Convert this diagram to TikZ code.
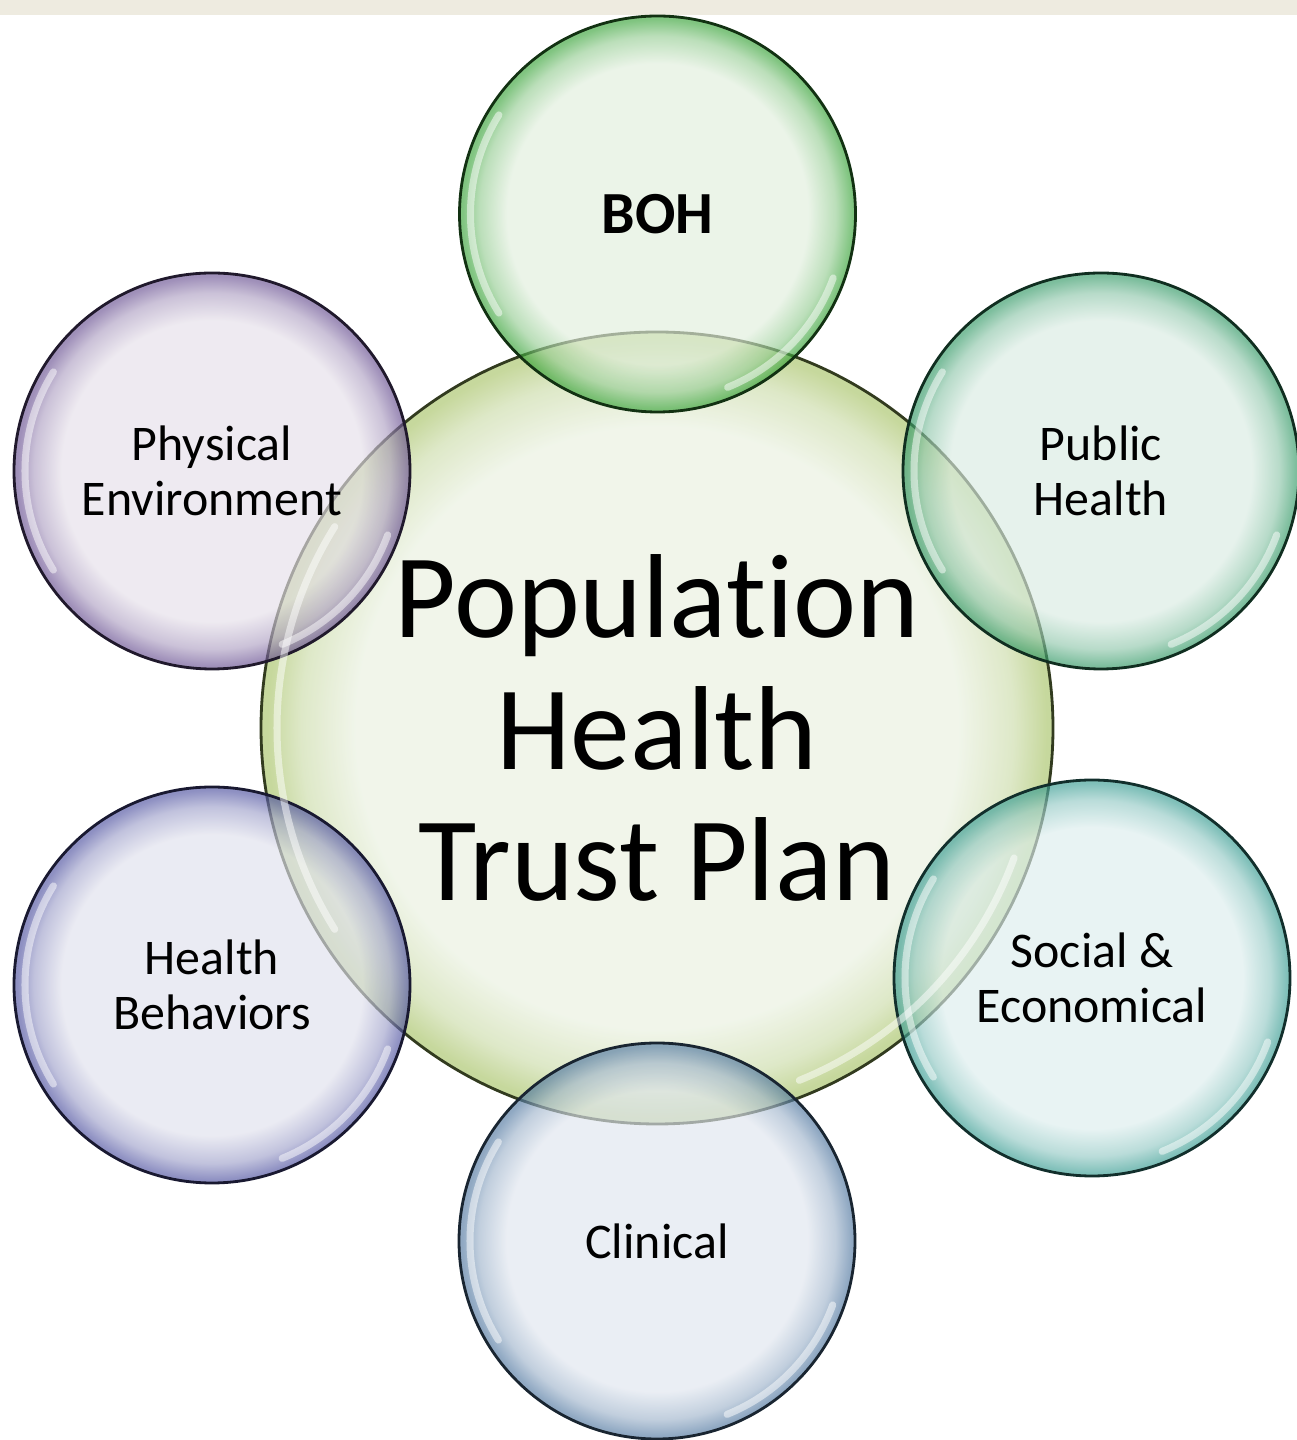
\documentclass[tikz,border=0pt]{standalone}
\usepackage{fontspec}
\setmainfont{Carlito}[Ligatures=CommonOff]
\usepackage{xcolor}

\definecolor{topband}{HTML}{EEEBE0}
\definecolor{planin}{RGB}{233,240,223}   \definecolor{planout}{RGB}{168,195,104}
\definecolor{bohin}{RGB}{224,238,220}    \definecolor{bohout}{RGB}{60,165,60}
\definecolor{pubin}{RGB}{217,235,226}    \definecolor{pubout}{RGB}{55,155,105}
\definecolor{physin}{RGB}{229,223,233}   \definecolor{physout}{RGB}{108,84,148}
\definecolor{behin}{RGB}{223,224,236}    \definecolor{behout}{RGB}{82,85,162}
\definecolor{socin}{RGB}{220,237,237}    \definecolor{socout}{RGB}{60,158,148}
\definecolor{clinin}{RGB}{223,229,238}   \definecolor{clinout}{RGB}{84,122,162}

\colorlet{bubin}{white}
\colorlet{bubout}{gray}
\colorlet{bubline}{black}
\pgfdeclareradialshading[bubin,bubout]{bubble}{\pgfpoint{0bp}{0bp}}{%
  color(0bp)=(bubin); color(19bp)=(bubin); color(22.5bp)=(bubin!55!bubout);
  color(24.6bp)=(bubout); color(50bp)=(bubout)}

\begin{document}
\begin{tikzpicture}[
    bubble/.style={circle, draw=bubline, line width=0.8pt, shading=bubble, fill opacity=0.65, text opacity=1,
        inner sep=0pt, minimum size=3.96cm, align=center, font=\fontsize{14.2}{15.6}\selectfont},
    tint/.code 2 args={\colorlet{bubin}{#1}\colorlet{bubout}{#2}\colorlet{bubline}{#2!30!black}},
    gleam/.style={white, line width=2pt, line cap=round, opacity=0.5}
]
    \useasboundingbox (0,0) rectangle (12.97,14.40);
    \fill[topband] (0,14.25) rectangle (12.97,14.40);

    % Centre
    \node[bubble, tint={planin}{planout}, minimum size=7.92cm,
          font=\fontsize{34}{37.3}\selectfont] (plan) at (6.57,7.12) {Population\\Health\\Trust Plan};

    % Surrounding circles
    \node[bubble, tint={bohin}{bohout}, font=\bfseries\fontsize{17}{20}\selectfont] (boh) at (6.575,12.26) {BOH};
    \node[bubble, tint={pubin}{pubout}] (pub) at (11.01,9.69) {Public\\Health};
    \node[bubble, tint={physin}{physout}] (phys) at (2.12,9.69) {Physical\\Environment};
    \node[bubble, tint={behin}{behout}] (beh) at (2.12,4.55) {Health\\Behaviors};
    \node[bubble, tint={socin}{socout}] (soc) at (10.92,4.62) {Social \&\\Economical};
    \node[bubble, tint={clinin}{clinout}] (clin) at (6.57,1.99) {Clinical};

    % Highlights
    \foreach \n/\r in {plan/3.80, boh/1.87, pub/1.87, phys/1.87, beh/1.87, soc/1.87, clin/1.87} {
        \draw[gleam] (\n.center) ++(148:\r) arc (148:212:\r);
        \draw[gleam] (\n.center) ++(-20:\r) arc (-20:-68:\r);
    }
\end{tikzpicture}
\end{document}
